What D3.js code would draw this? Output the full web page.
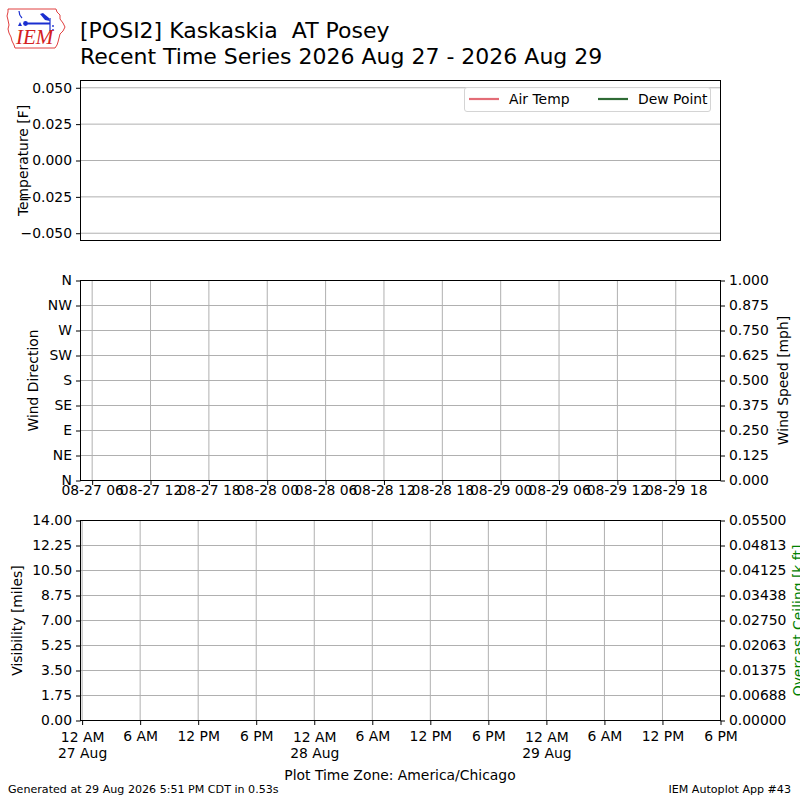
<!DOCTYPE html>
<html><head><meta charset="utf-8">
<script src="https://cdn.jsdelivr.net/npm/d3@7"></script>
<style>
body{margin:0;background:#fff}
svg{display:block}
text{font-family:"DejaVu Sans",sans-serif;fill:#000}
</style>
</head><body>
<svg id="c" width="800" height="800"></svg>
<script>
// ---------------- DATA ----------------
const titleLine1 = "[POSI2] Kaskaskia  AT Posey";
const titleLine2 = "Recent Time Series 2026 Aug 27 - 2026 Aug 29";
const footerLeft = "Generated at 29 Aug 2026 5:51 PM CDT in 0.53s";
const footerRight = "IEM Autoplot App #43";
const timeZoneLabel = "Plot Time Zone: America/Chicago";

// observation series (station reported nothing in this window)
const obsTimes = [];
const airTemp = [];
const dewPoint = [];
const windDir = [];
const windSpeed = [];
const visibility = [];
const ceiling = [];

// axis domains / ticks
const tempDomain = [-0.055, 0.055];
const tempTicks = [0.05, 0.025, 0, -0.025, -0.05];
const dirTicks = [0, 45, 90, 135, 180, 225, 270, 315, 360];
const dirLabels = ["N", "NE", "E", "SE", "S", "SW", "W", "NW", "N"];
const speedTicks = [0, 0.125, 0.25, 0.375, 0.5, 0.625, 0.75, 0.875, 1.0];
const visTicks = [0, 1.75, 3.5, 5.25, 7, 8.75, 10.5, 12.25, 14];
const ceilTicks = [0, 0.006875, 0.01375, 0.020625, 0.0275, 0.034375, 0.04125, 0.048125, 0.055];
const ceilLabels = ["0.00000","0.00688","0.01375","0.02063","0.02750","0.03438","0.04125","0.04813","0.05500"];
const windTimeDomain = [Date.UTC(2026,7,27,4,48), Date.UTC(2026,7,29,22,36)];
const visTimeDomain = [Date.UTC(2026,7,26,23,50), Date.UTC(2026,7,29,18,0)];
const legendNames = ["Air Temp", "Dew Point"];
const legendColors = ["#e36c76", "#2f6b35"];

// ---------------- LAYOUT ----------------
const svg = d3.select("#c");
const L = 80.5, R = 720.5;
const P1 = {top: 80.5, bottom: 240.5};
const P2 = {top: 280.5, bottom: 480.5};
const P3 = {top: 520.5, bottom: 720.5};
const GRID = "#b0b0b0";
const FS = "13.9px";

// ---------------- LOGO ----------------
const logo = svg.append("g");
logo.append("path")
  .attr("d","M8,9 L56,9 L57,12 L60,15 L60,19 L63,23 L65,27 L63,31 L60,34 L59,38 L58,42 L57,45 L55,48 L15,48 L14,45 L12,41 L11,37 L9,33 L8,29 L9,25 L8,20 L7,16 L8,12 Z")
  .attr("fill","none").attr("stroke","#e04040").attr("stroke-width",1);
logo.append("path").attr("d","M19,11 Q19,15 22,18").attr("fill","none").attr("stroke","#1a2fd0").attr("stroke-width",1.2);
logo.append("path").attr("d","M18,26 L20,22 L22,26 Z").attr("fill","#1a2fd0");
logo.append("circle").attr("cx",25.5).attr("cy",23.5).attr("r",2.4).attr("fill","#1a2fd0");
logo.append("line").attr("x1",25).attr("y1",23.5).attr("x2",50).attr("y2",23.5).attr("stroke","#1a2fd0").attr("stroke-width",2);
logo.append("path").attr("d","M40,14 L43,13 L49,18 L50,21 L45,20 Z").attr("fill","#1a2fd0");
logo.append("line").attr("x1",50).attr("y1",18).attr("x2",50).attr("y2",31).attr("stroke","#1a2fd0").attr("stroke-width",1.2);
logo.append("circle").attr("cx",53).attr("cy",26).attr("r",0.9).attr("fill","#1a2fd0");
logo.append("circle").attr("cx",53).attr("cy",30).attr("r",0.9).attr("fill","#1a2fd0");
logo.append("text").attr("x",16).attr("y",44).text("IEM")
  .style("font-family","'Liberation Serif',serif").style("font-style","italic")
  .style("font-size","21px").style("fill","#d42020");

// ---------------- TITLES ----------------
svg.append("text").attr("x",80).attr("y",38).style("font-size","22px").style("white-space","pre").text(titleLine1);
svg.append("text").attr("x",80).attr("y",64).style("font-size","22px").style("white-space","pre").text(titleLine2);

// ---------------- helpers ----------------
function styleAxis(g){
  g.select(".domain").remove();
  g.selectAll(".tick line").attr("stroke","#000").attr("stroke-width",1);
  g.selectAll(".tick text").style("font-size",FS).style("font-family","'DejaVu Sans',sans-serif").attr("fill","#000");
}
function hGrid(ys, ticks){
  svg.append("g").selectAll("line").data(ticks).join("line")
    .attr("x1",L).attr("x2",R).attr("y1",d=>ys(d)).attr("y2",d=>ys(d))
    .attr("stroke",GRID).attr("stroke-width",1);
}
function vGrid(xs, ticks, p){
  svg.append("g").selectAll("line").data(ticks).join("line")
    .attr("x1",d=>xs(d)).attr("x2",d=>xs(d)).attr("y1",p.top).attr("y2",p.bottom)
    .attr("stroke",GRID).attr("stroke-width",1);
}
function frame(p){
  svg.append("rect").attr("x",L).attr("y",p.top).attr("width",R-L).attr("height",p.bottom-p.top)
    .attr("fill","none").attr("stroke","#000").attr("stroke-width",1);
}
function yLabel(x, y, txt, color){
  svg.append("text").attr("transform",`translate(${x},${y}) rotate(-90)`)
    .attr("text-anchor","middle").attr("dominant-baseline","central")
    .style("font-size",FS).style("fill",color||"#000").text(txt);
}

// ---------------- PANEL 1: temperature ----------------
const x1 = d3.scaleUtc().domain(windTimeDomain).range([L,R]);
const yT = d3.scaleLinear().domain(tempDomain).range([P1.bottom,P1.top]);
hGrid(yT, tempTicks);
const lineT = d3.line().x((d,i)=>x1(obsTimes[i])).y(d=>yT(d));
svg.append("path").datum(airTemp).attr("d",lineT).attr("fill","none").attr("stroke",legendColors[0]).attr("stroke-width",2);
svg.append("path").datum(dewPoint).attr("d",lineT).attr("fill","none").attr("stroke",legendColors[1]).attr("stroke-width",2);
frame(P1);
svg.append("g").attr("transform",`translate(${L},0)`)
  .call(d3.axisLeft(yT).tickValues(tempTicks).tickFormat(d3.format(".3f")).tickSize(4.5).tickPadding(4))
  .call(styleAxis);
yLabel(23, 160.5, "Temperature [F]");

// legend
const lg = svg.append("g");
lg.append("rect").attr("x",464.5).attr("y",87.5).attr("width",246).attr("height",24).attr("rx",2.5)
  .attr("fill","#fff").attr("fill-opacity",0.8).attr("stroke","#d4d4d4").attr("stroke-width",1);
const legX = [469, 598];
legendNames.forEach((n,i)=>{
  lg.append("line").attr("x1",legX[i]).attr("x2",legX[i]+30).attr("y1",99).attr("y2",99)
    .attr("stroke",legendColors[i]).attr("stroke-width",2.2);
  lg.append("text").attr("x",legX[i]+40).attr("y",104).style("font-size",FS).text(n);
});

// ---------------- PANEL 2: wind ----------------
const x2 = d3.scaleUtc().domain(windTimeDomain).range([L,R]);
const yD = d3.scaleLinear().domain([0,360]).range([P2.bottom,P2.top]);
const yS = d3.scaleLinear().domain([0,1]).range([P2.bottom,P2.top]);
const windTicks = d3.utcHour.every(6).range(new Date(windTimeDomain[0]), new Date(windTimeDomain[1]));
hGrid(yD, dirTicks);
vGrid(x2, windTicks, P2);
svg.append("g").selectAll("circle").data(windDir).join("circle")
  .attr("cx",(d,i)=>x2(obsTimes[i])).attr("cy",d=>yD(d)).attr("r",2).attr("fill","#1f77b4");
svg.append("path").datum(windSpeed)
  .attr("d",d3.line().x((d,i)=>x2(obsTimes[i])).y(d=>yS(d))).attr("fill","none").attr("stroke","#ff7f0e");
frame(P2);
svg.append("g").attr("transform",`translate(${L},0)`)
  .call(d3.axisLeft(yD).tickValues(dirTicks).tickFormat((d,i)=>dirLabels[i]).tickSize(4.5).tickPadding(4))
  .call(styleAxis);
svg.append("g").attr("transform",`translate(${R},0)`)
  .call(d3.axisRight(yS).tickValues(speedTicks).tickFormat(d3.format(".3f")).tickSize(4.5).tickPadding(4))
  .call(styleAxis);
const gx2 = svg.append("g").attr("transform",`translate(0,${P2.bottom})`)
  .call(d3.axisBottom(x2).tickValues(windTicks).tickFormat(d3.utcFormat("%m-%d %H")).tickSize(4.5))
  .call(styleAxis);
gx2.selectAll(".tick text").attr("y",14).attr("dy",0);
yLabel(33, 380.5, "Wind Direction");
yLabel(782.5, 380.5, "Wind Speed [mph]");

// ---------------- PANEL 3: visibility / ceiling ----------------
const x3 = d3.scaleUtc().domain(visTimeDomain).range([L,R]);
const yV = d3.scaleLinear().domain([0,14]).range([P3.bottom,P3.top]);
const yC = d3.scaleLinear().domain([0,0.055]).range([P3.bottom,P3.top]);
const visTimeTicks = d3.utcHour.every(6).range(new Date(Date.UTC(2026,7,27,0)), new Date(visTimeDomain[1]+1));
hGrid(yV, visTicks);
vGrid(x3, visTimeTicks, P3);
svg.append("path").datum(visibility)
  .attr("d",d3.line().x((d,i)=>x3(obsTimes[i])).y(d=>yV(d))).attr("fill","none").attr("stroke","#000");
svg.append("path").datum(ceiling)
  .attr("d",d3.line().x((d,i)=>x3(obsTimes[i])).y(d=>yC(d))).attr("fill","none").attr("stroke","green");
frame(P3);
svg.append("g").attr("transform",`translate(${L},0)`)
  .call(d3.axisLeft(yV).tickValues(visTicks).tickFormat(d3.format(".2f")).tickSize(4.5).tickPadding(4))
  .call(styleAxis);
svg.append("g").attr("transform",`translate(${R},0)`)
  .call(d3.axisRight(yC).tickValues(ceilTicks).tickFormat((d,i)=>ceilLabels[i]).tickSize(4.5).tickPadding(4))
  .call(styleAxis);
const gx3 = svg.append("g").attr("transform",`translate(0,${P3.bottom})`)
  .call(d3.axisBottom(x3).tickValues(visTimeTicks).tickFormat("").tickSize(4.5))
  .call(styleAxis);
const hourFmt = d3.utcFormat("%-I %p"), dayFmt = d3.utcFormat("%-d %b");
gx3.selectAll(".tick").each(function(d){
  const t = d3.select(this).select("text").attr("dy",0).text(null);
  if (d.getUTCHours() === 0){
    t.attr("y",21.5);
    t.append("tspan").attr("x",0).attr("y",21.5).text(hourFmt(d));
    t.append("tspan").attr("x",0).attr("y",37.5).text(dayFmt(d));
  } else {
    t.attr("y",20).text(hourFmt(d));
  }
});
yLabel(17, 620.5, "Visibility [miles]");
yLabel(798, 620.5, "Overcast Ceiling [k ft]", "green");

svg.append("text").attr("x",400).attr("y",779.5).attr("text-anchor","middle").style("font-size",FS).text(timeZoneLabel);

// ---------------- FOOTER ----------------
svg.append("text").attr("x",8).attr("y",793).style("font-size","11.1px").text(footerLeft);
svg.append("text").attr("x",791).attr("y",793).attr("text-anchor","end").style("font-size","11.1px").text(footerRight);
</script>
</body></html>
